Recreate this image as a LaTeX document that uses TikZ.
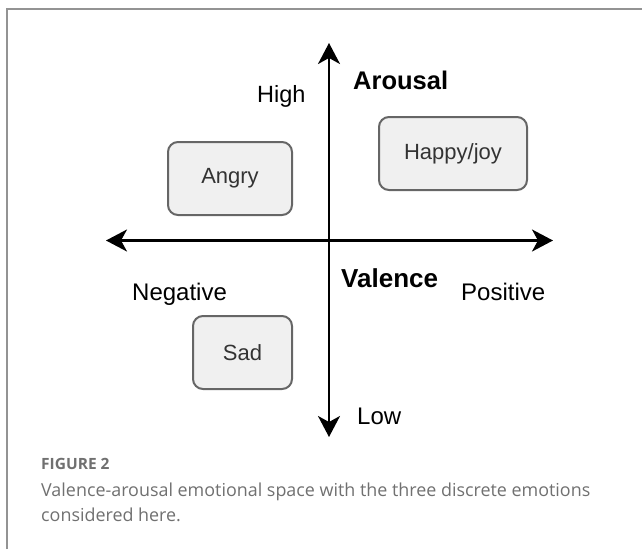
\documentclass[tikz,border=0pt]{standalone}
\usepackage{fontspec}
\setmainfont{Liberation Sans}
\newfontfamily\capfont{Open Sans}
\usetikzlibrary{arrows.meta}
\definecolor{boxfill}{HTML}{F0F0F0}
\definecolor{boxline}{HTML}{666666}
\definecolor{boxtext}{HTML}{333333}
\definecolor{captext}{HTML}{707070}
\definecolor{framegray}{HTML}{939393}
\tikzset{
  axisline/.style={line width=2.2pt, black, {Stealth[length=21pt,width=22pt,inset=6pt]}-{Stealth[length=21pt,width=22pt,inset=6pt]}},
  emobox/.style={draw=boxline, fill=boxfill, line width=2pt, rounded corners=10pt, inner sep=0pt,
    minimum height=73pt, text=boxtext, font=\fontsize{22}{24}\selectfont},
  axlabel/.style={anchor=base west, inner sep=0pt, font=\fontsize{24}{28}\selectfont},
  axtitle/.style={anchor=base west, inner sep=0pt, font=\fontsize{26}{30}\selectfont\bfseries},
  capline/.style={anchor=base west, inner sep=0pt, text=captext, font=\capfont\fontsize{17.9}{20}\selectfont},
  frameline/.style={draw=framegray, line width=2pt}
}
\begin{document}
\begin{tikzpicture}[x=1pt,y=-1pt]
\useasboundingbox (0,0) rectangle (642,549);
% frame
\coordinate (frbl) at (7,549);
\coordinate (frtl) at (7,9);
\coordinate (frtr) at (642,9);
\draw[frameline] (frbl) -- (frtl) -- (frtr);
% axes
\coordinate (atop) at (329,43);
\coordinate (abot) at (329,437);
\coordinate (aleft) at (106,240.5);
\coordinate (aright) at (553,240.5);
\draw[axisline] (abot) -- (atop);
\draw[axisline] (aleft) -- (aright);
% boxes
\node[emobox, minimum width=124pt] (angry) at (230,178.5) {Angry};
\node[emobox, minimum width=148pt] (happy) at (453,153.5) {Happy/joy};
\node[emobox, minimum width=99pt] (sad) at (242.5,352.5) {Sad};
% labels
\node[axlabel, font=\fontsize{23.5}{28}\selectfont] (high) at (257,102) {High};
\node[axtitle, font=\fontsize{25.5}{30}\selectfont\bfseries] (arousal) at (353,89) {Arousal};
\node[axlabel] (negative) at (132,300) {Negative};
\node[axtitle] (valence) at (341,287) {Valence};
\node[axlabel] (positive) at (461,300) {Positive};
\node[axlabel] (low) at (357,424) {Low};
% caption
\node[anchor=base west, inner sep=0pt, text=captext, font=\capfont\bfseries\fontsize{15.5}{18}\selectfont] (fig) at (41,469) {FIGURE 2};
\node[capline] (cap1) at (41,496) {Valence-arousal emotional space with the three discrete emotions};
\node[capline] (cap2) at (41,521) {considered here.};
\end{tikzpicture}
\end{document}
